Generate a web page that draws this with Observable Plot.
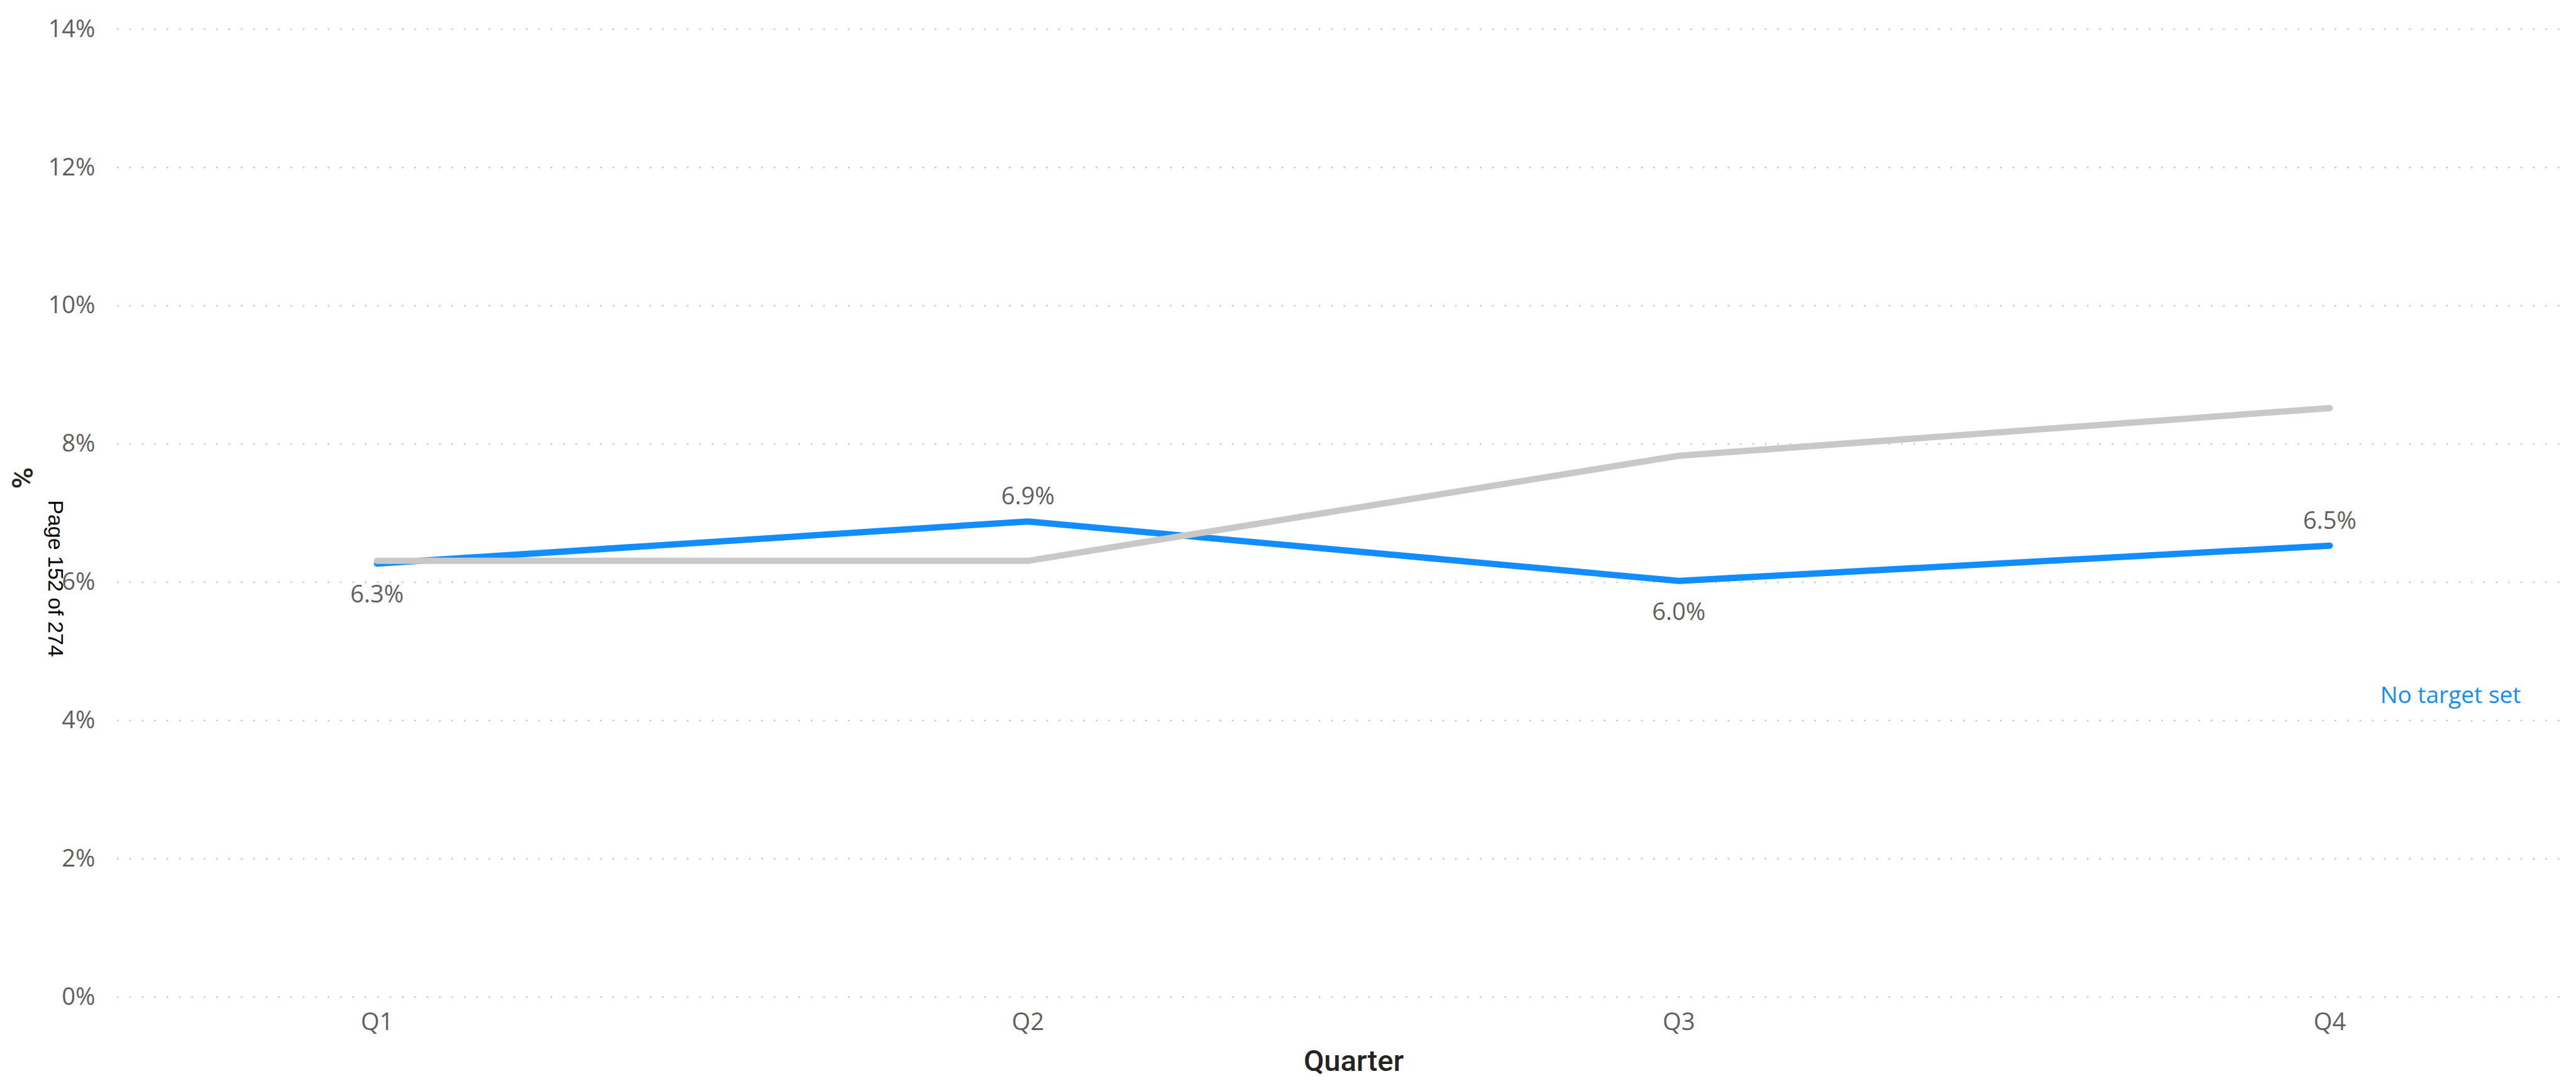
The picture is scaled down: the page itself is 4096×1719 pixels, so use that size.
<!DOCTYPE html>
<html>
<head>
<meta charset="utf-8">
<script src="https://cdn.jsdelivr.net/npm/d3@7"></script>
<script src="https://cdn.jsdelivr.net/npm/@observablehq/plot@0.6"></script>
<style>
  html, body { margin: 0; padding: 0; background: #ffffff; overflow: hidden; }
  #chart { width: 4096px; height: 1719px; }
</style>
</head>
<body>
<div id="chart"></div>
<script>
// Quarterly rate (blue) against the comparison series (grey)
const quarters = ["Q1", "Q2", "Q3", "Q4"];
const actual = [6.27, 6.88, 6.02, 6.53];
const comparison = [6.31, 6.31, 7.83, 8.52];
const yTicks = [0, 2, 4, 6, 8, 10, 12, 14];
const xTitle = "Quarter";
const yTitle = "%";
const targetNote = "No target set";
const pageNote = "Page 152 of 274";

const BLUE = "#118DFF";
const GREY = "#C8C8C8";
const TEXT = "#605E5C";
const TITLE = "#252423";
const UI_FONT = "'Segoe UI', 'Open Sans', 'Noto Sans', sans-serif";
const TITLE_FONT = "'DIN', Roboto, 'DejaVu Sans', sans-serif";

const actualRows = quarters.map((q, i) => ({quarter: q, value: actual[i]}));
const comparisonRows = quarters.map((q, i) => ({quarter: q, value: comparison[i]}));

// A data label sits above its point when the point is higher than the mean of its neighbours
actualRows.forEach((d, i) => {
  const nb = [actual[i - 1], actual[i + 1]].filter(v => v !== undefined);
  d.above = d.value >= d3.mean(nb);
  d.label = d.value.toFixed(1) + "%";
});

const chart = Plot.plot({
  width: 4096,
  height: 1719,
  marginLeft: 186,
  marginRight: 12,
  marginTop: 46,
  marginBottom: 134,
  style: {fontFamily: UI_FONT, fontSize: "38px", color: TEXT, background: "#ffffff"},
  x: {type: "point", domain: quarters, padding: 0, insetLeft: 412, insetRight: 379},
  y: {domain: [0, 14]},
  marks: [
    Plot.ruleY(yTicks, {stroke: GREY, strokeWidth: 2.6, strokeDasharray: "2.6 17.1"}),
    Plot.axisY(yTicks, {
      tickSize: 0, tickPadding: 35, tickFormat: d => d + "%", label: null,
      fill: TEXT, fontSize: 38, fontFamily: UI_FONT
    }),
    Plot.axisX({
      tickSize: 0, tickPadding: 26, label: null,
      fill: TEXT, fontSize: 38, fontFamily: UI_FONT
    }),
    Plot.line(actualRows, {
      x: "quarter", y: "value", stroke: BLUE, strokeWidth: 10,
      strokeLinecap: "round", strokeLinejoin: "round"
    }),
    Plot.line(comparisonRows, {
      x: "quarter", y: "value", stroke: GREY, strokeWidth: 10,
      strokeLinecap: "round", strokeLinejoin: "round"
    }),
    Plot.text(actualRows.filter(d => d.above), {
      x: "quarter", y: "value", text: "label", dy: -39,
      fill: TEXT, fontSize: 38, fontFamily: UI_FONT
    }),
    Plot.text(actualRows.filter(d => !d.above), {
      x: "quarter", y: "value", text: "label", dy: 50,
      fill: TEXT, fontSize: 38, fontFamily: UI_FONT
    }),
    Plot.text([targetNote], {
      frameAnchor: "right", textAnchor: "end", lineAnchor: "middle", dx: -76, dy: 290,
      fill: BLUE, fontSize: 37, fontFamily: UI_FONT
    }),
    Plot.text([xTitle], {
      frameAnchor: "bottom", textAnchor: "middle", lineAnchor: "middle", dx: 17, dy: 102,
      fill: TITLE, fontSize: 47, fontWeight: 500, fontFamily: TITLE_FONT
    }),
    Plot.text([yTitle], {
      frameAnchor: "left", textAnchor: "middle", lineAnchor: "middle", dx: -152, dy: -56, rotate: 90,
      fill: TITLE, fontSize: 47, fontWeight: 500, fontFamily: TITLE_FONT
    }),
    Plot.text([pageNote], {
      frameAnchor: "left", textAnchor: "middle", lineAnchor: "middle", dx: -99, dy: 104, rotate: 90,
      fill: "#000000", fontSize: 34, fontWeight: "normal", fontFamily: "Arial, 'Liberation Sans', sans-serif"
    })
  ]
});

document.getElementById("chart").appendChild(chart);
</script>
</body>
</html>
